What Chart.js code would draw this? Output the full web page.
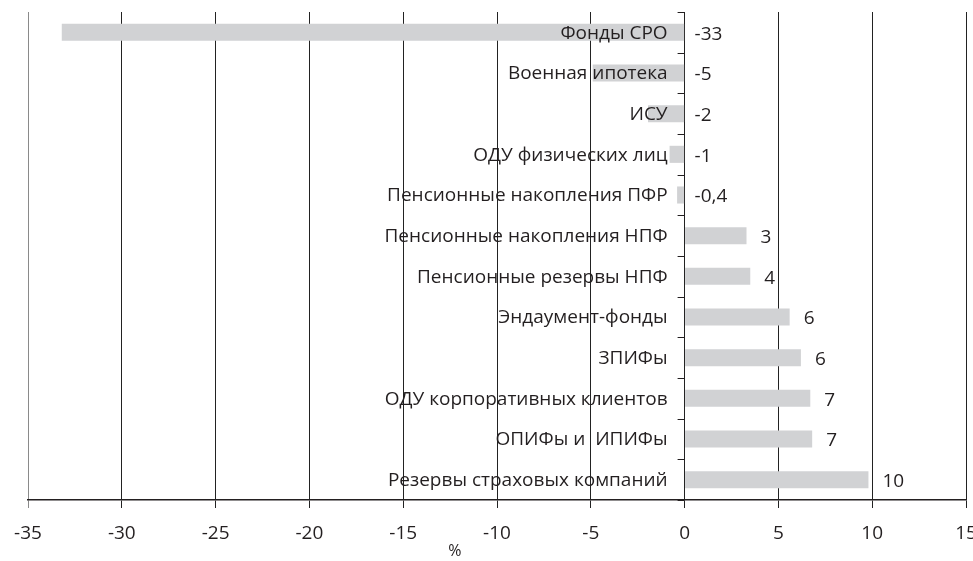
<!DOCTYPE html>
<html>
<head>
<meta charset="utf-8">
<script src="https://cdn.jsdelivr.net/npm/chart.js@4.4.1/dist/chart.umd.min.js"></script>
<style>
  html, body { margin: 0; padding: 0; background: #fff; }
  #wrap { width: 973px; height: 561px; position: relative; }
</style>
</head>
<body>
<div id="wrap"><canvas id="fundsChart"></canvas></div>
<script>
const categories = [
  'Фонды СРО',
  'Военная ипотека',
  'ИСУ',
  'ОДУ физических лиц',
  'Пенсионные накопления ПФР',
  'Пенсионные накопления НПФ',
  'Пенсионные резервы НПФ',
  'Эндаумент-фонды',
  'ЗПИФы',
  'ОДУ корпоративных клиентов',
  'ОПИФы и  ИПИФы',
  'Резервы страховых компаний',
];
const growth = [-33.2, -4.9, -1.95, -0.8, -0.4, 3.3, 3.5, 5.6, 6.2, 6.7, 6.8, 9.8];
const valueLabels = ['-33', '-5', '-2', '-1', '-0,4', '3', '4', '6', '6', '7', '7', '10'];
const xTicks = [-35, -30, -25, -20, -15, -10, -5, 0, 5, 10, 15];
const unitLabel = '%';

const FONT = "'Open Sans', sans-serif";
const INK = '#231f20';

// category names, value labels, unit and the short ticks on the zero axis
const labelsPlugin = {
  id: 'labels',
  afterDatasetsDraw(chart) {
    const { ctx, scales: { x, y } } = chart;
    const zero = x.getPixelForValue(0);
    ctx.save();
    ctx.font = '19px ' + FONT;
    ctx.fillStyle = INK;
    ctx.textBaseline = 'middle';
    categories.forEach((name, i) => {
      const py = y.getPixelForValue(i);
      ctx.textAlign = 'right';
      ctx.fillText(name, zero - 17, py + 1);
      const v = growth[i];
      const px = v < 0 ? zero + 10 : x.getPixelForValue(v) + 14;
      ctx.textAlign = 'left';
      ctx.fillText(valueLabels[i], px, py + 2);
    });
    ctx.strokeStyle = INK;
    ctx.lineWidth = 1;
    for (let i = 0; i <= categories.length; i++) {
      const py = Math.round(y.getPixelForValue(i - 0.5)) + 0.5;
      ctx.beginPath();
      ctx.moveTo(zero - 7, py);
      ctx.lineTo(zero, py);
      ctx.stroke();
    }
    // unit sits left of the axis centre in the original
    ctx.font = '16px ' + FONT;
    ctx.textAlign = 'center';
    ctx.fillText(unitLabel, x.getPixelForValue(-12.25), x.bottom - 10);
    ctx.restore();
  },
};

new Chart(document.getElementById('fundsChart'), {
  type: 'bar',
  data: {
    labels: categories,
    datasets: [{
      data: growth,
      backgroundColor: '#d1d2d4',
      borderWidth: 0,
      barPercentage: 0.42,
      categoryPercentage: 1,
    }],
  },
  options: {
    indexAxis: 'y',
    responsive: true,
    maintainAspectRatio: false,
    animation: false,
    layout: { padding: { top: 12, left: 28, right: 7, bottom: 0 } },
    plugins: { legend: { display: false }, tooltip: { enabled: false } },
    scales: {
      x: {
        min: -35,
        max: 15,
        afterBuildTicks: (scale) => { scale.ticks = xTicks.map(v => ({ value: v })); },
        afterFit: (scale) => {
          scale.paddingLeft = 0;
          scale.paddingRight = 0;
          scale.height = 61;
        },
        grid: {
          color: (c) => (c.tick && c.tick.value === -35 ? '#8a8a8a' : '#222'),
          lineWidth: 1,
          tickLength: 8,
        },
        border: { display: true, color: INK, width: 1.5 },
        ticks: { color: INK, font: { family: FONT, size: 19 }, padding: 14 },
      },
      y: {
        display: false,
        grid: { display: false },
      },
    },
  },
  plugins: [labelsPlugin],
});
</script>
</body>
</html>
